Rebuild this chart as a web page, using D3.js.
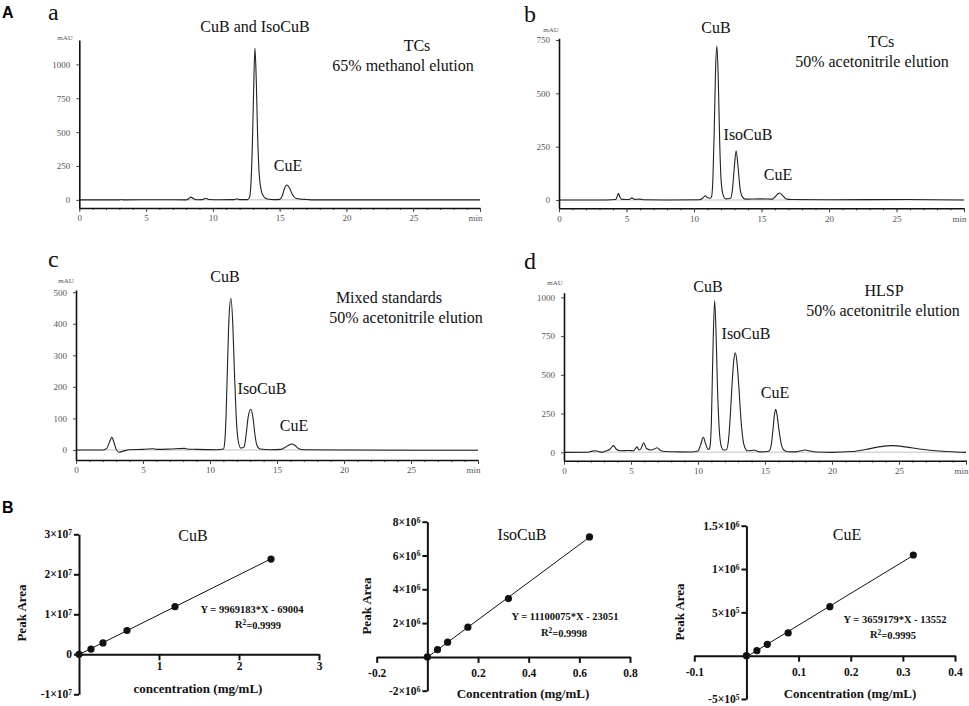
<!DOCTYPE html>
<html>
<head>
<meta charset="utf-8">
<script src="https://cdn.jsdelivr.net/npm/d3@7"></script>
<style>
  body { margin: 0; background: #fff; }
  svg { display: block; }
  svg text { font-family: "Liberation Serif", "Tinos", "Times New Roman", "DejaVu Serif", serif; }
  svg text.sans { font-family: "Liberation Sans", Arial, sans-serif; }
</style>
</head>
<body>
<div id="fig"></div>
<script>
// --- chromatograms: [time (min), signal (mAU)] ---
const traceA = [[0,0],[3,0],[3.15,3],[3.3,0],[6,1],[8.0,0],[8.2,10],[8.35,20],[8.55,10],[8.8,1],[9.2,2],[9.45,12],[9.7,3],[10.5,1],
  [11.6,2],[11.8,8],[12.0,2],[12.6,2],[12.75,20],[12.85,120],[12.95,380],[13.05,800],[13.15,1120],[13.25,880],[13.35,480],
  [13.45,220],[13.6,80],[13.8,25],[14.1,6],[14.6,2],[15.0,4],[15.2,30],[15.35,80],[15.55,110],[15.75,85],[15.95,40],
  [16.2,12],[16.6,5],[17.0,3],[17.5,0],[30,0]];
const traceB = [[0,0],[3.5,0],[4.2,2],[4.3,15],[4.4,31],[4.5,15],[4.65,3],[5.2,2],[5.4,10],[5.6,3],[6.0,4],[6.3,1],[8,0],
  [10.4,1],[10.7,12],[10.85,20],[11.0,10],[11.2,8],[11.3,15],[11.4,100],[11.5,330],[11.6,620],[11.7,722],[11.8,560],
  [11.9,280],[12.0,100],[12.15,25],[12.35,5],[12.7,8],[12.85,50],[12.97,140],[13.12,231],[13.27,150],[13.4,60],[13.55,18],
  [13.8,4],[15,5],[15.8,4],[16.0,14],[16.2,28],[16.35,33],[16.55,22],[16.8,6],[17.2,2],[20,1],[25.8,2],[30,0]];
const traceC = [[0,0],[2.0,0],[2.3,5],[2.5,25],[2.67,40],[2.85,22],[3.0,2],[3.2,-7],[3.5,-4],[4,1],[5,2],[5.8,4],[6,2],[7,3],
  [8.1,5],[8.3,3],[9,2],[10.5,1],[11.0,3],[11.1,25],[11.2,110],[11.3,260],[11.42,420],[11.56,481],[11.7,400],[11.82,250],
  [11.95,110],[12.1,30],[12.3,6],[12.55,10],[12.7,50],[12.85,105],[13.05,129],[13.2,105],[13.35,50],[13.5,15],[13.75,3],
  [14.5,1],[15.3,2],[15.6,8],[15.9,16],[16.1,19],[16.35,14],[16.6,5],[17,1],[20,0],[30,-1]];
const traceD = [[0,0],[1.8,1],[2.1,8],[2.35,10],[2.6,5],[2.85,0],[3.1,8],[3.4,18],[3.7,43],[3.9,20],[4.2,10],[4.8,12],[5.2,10],
  [5.45,35],[5.6,15],[5.75,25],[5.95,62],[6.15,25],[6.5,15],[6.75,22],[6.95,30],[7.2,12],[7.6,5],[8.5,3],[9.5,2],[10.0,8],
  [10.2,50],[10.4,97],[10.55,60],[10.7,25],[10.8,18],[10.9,40],[11.0,200],[11.1,600],[11.24,979],[11.35,760],[11.45,430],
  [11.6,130],[11.75,35],[11.9,15],[12.1,15],[12.25,60],[12.4,220],[12.55,450],[12.68,600],[12.78,643],[12.9,590],[13.05,420],
  [13.2,220],[13.35,85],[13.5,30],[13.7,10],[14.0,12],[14.15,15],[14.35,10],[14.6,3],[15.0,4],[15.3,8],[15.45,40],[15.6,150],
  [15.7,240],[15.8,277],[15.9,240],[16.05,140],[16.2,60],[16.4,15],[16.7,4],[17.3,3],[17.8,12],[18.0,15],[18.3,10],[18.8,2],
  [20,0],[21.5,5],[22.5,18],[23.5,35],[24.5,43],[25.5,35],[26.5,22],[27.5,12],[28.5,5],[29.5,1],[30,0]];

const timeTicks = [0, 5, 10, 15, 20, 25, 30];
const ticksA = [0, 250, 500, 750, 1000];
const ticksB = [0, 250, 500, 750];
const ticksC = [0, 100, 200, 300, 400, 500];
const ticksD = [0, 250, 500, 750, 1000];

// --- calibration curves ---
const cubConc = [0, 0.15, 0.3, 0.6, 1.2, 2.4];
const cubArea = [0, 1.3e6, 2.85e6, 5.95e6, 1.19e7, 2.38e7];
const cubFit = [9969183, -69004];
const isoConc = [0, 0.04, 0.08, 0.16, 0.32, 0.64];
const isoArea = [0, 4.3e5, 8.7e5, 1.76e6, 3.45e6, 7.1e6];
const isoFit = [11100075, -23051];
const cueConc = [0, 0.02, 0.04, 0.08, 0.16, 0.32];
const cueArea = [0, 5.8e4, 1.31e5, 2.62e5, 5.66e5, 1.162e6];
const cueFit = [3659179, -13552];

const cubYTicks = [-1e7, 0, 1e7, 2e7, 3e7];
const cubXTicks = [1, 2, 3];
const isoYTicks = [-2e6, 2e6, 4e6, 6e6, 8e6];
const isoXTicks = [-0.2, 0.2, 0.4, 0.6, 0.8];
const cueYTicks = [-5e5, 5e5, 1e6, 1.5e6];
const cueXTicks = [-0.1, 0.1, 0.2, 0.3, 0.4];

const svg = d3.select("#fig").append("svg")
  .attr("width", 969).attr("height", 706)
  .style("background", "#fff");

// panel letters
svg.append("text").attr("class", "sans").attr("x", 2).attr("y", 18).text("A")
  .attr("font-weight", "bold").attr("font-size", 16);
svg.append("text").attr("class", "sans").attr("x", 2).attr("y", 513).text("B")
  .attr("font-weight", "bold").attr("font-size", 16);

function addText(g, x, y, txt, size, opts) {
  opts = opts || {};
  return g.append("text").attr("x", x).attr("y", y).text(txt)
    .attr("font-size", size)
    .attr("font-weight", opts.bold ? "bold" : null)
    .attr("text-anchor", opts.anchor || "middle")
    .attr("fill", "#111");
}

function drawChrom(o) {
  const x = d3.scaleLinear().domain([0, 30]).range(o.xr);
  const y = d3.scaleLinear().domain(o.yd).range(o.yr);
  const g = svg.append("g");

  // integration baseline
  g.append("line")
    .attr("x1", x(0)).attr("x2", x(30)).attr("y1", y(0)).attr("y2", y(0))
    .attr("stroke", "#d6d6d6").attr("stroke-width", 1.5);

  g.append("path").datum(o.data)
    .attr("fill", "none").attr("stroke", "#222").attr("stroke-width", 1.1)
    .attr("d", d3.line().x(d => x(d[0])).y(d => y(d[1])).curve(d3.curveMonotoneX));

  // minor ticks on time axis
  g.append("g").attr("transform", "translate(0," + o.yr[0] + ")")
    .call(d3.axisBottom(x).tickValues(d3.range(0, 31, 1)).tickSize(2).tickSizeOuter(0).tickFormat(""))
    .call(a => a.select(".domain").remove())
    .selectAll("line").attr("stroke", "#444");

  const xa = g.append("g").attr("transform", "translate(0," + o.yr[0] + ")")
    .call(d3.axisBottom(x).tickValues(timeTicks).tickSize(4).tickSizeOuter(0).tickPadding(3)
      .tickFormat(d => d === 30 ? "min" : String(d)));
  const ya = g.append("g").attr("transform", "translate(" + o.xr[0] + ",0)")
    .call(d3.axisLeft(y).tickValues(o.yt).tickSize(3).tickSizeOuter(0).tickPadding(6)
      .tickFormat(d => String(d)));

  [xa, ya].forEach(a => {
    a.select(".domain").attr("stroke", "#111").attr("stroke-width", 1.6);
    a.selectAll(".tick line").attr("stroke", "#444");
    a.selectAll("text").attr("font-size", 9).attr("fill", "#555");
  });
  xa.selectAll(".tick").filter(d => d === 30).select("text").attr("text-anchor", "end").attr("dx", "2");

  addText(g, o.mau[0], o.mau[1], "mAU", 7).attr("fill", "#555");
  addText(g, o.letter[1], o.letter[2], o.letter[0], 24, { anchor: "start" });
  o.labels.forEach(l => addText(g, l[1], l[2], l[0], 16));
}

drawChrom({ data: traceA, xr: [79.3, 480], yd: [-60, 1180], yr: [208, 40], yt: ticksA,
  letter: ["a", 48, 20], mau: [65, 40],
  labels: [["CuB and IsoCuB", 255, 32], ["TCs", 417, 51], ["65% methanol elution", 403, 71], ["CuE", 288, 171]] });
drawChrom({ data: traceB, xr: [559, 964], yd: [-39, 758], yr: [208.3, 38.3], yt: ticksB,
  letter: ["b", 524, 22], mau: [551, 31.5],
  labels: [["CuB", 716, 33], ["TCs", 881, 47], ["50% acetonitrile elution", 872, 67], ["IsoCuB", 748, 140], ["CuE", 778, 180]] });
drawChrom({ data: traceC, xr: [76, 478], yd: [-31.7, 507], yr: [460, 290], yt: ticksC,
  letter: ["c", 48, 267], mau: [66, 283],
  labels: [["CuB", 225, 282], ["Mixed standards", 389, 303], ["50% acetonitrile elution", 406, 323], ["IsoCuB", 262, 394], ["CuE", 294, 431]] });
drawChrom({ data: traceD, xr: [564, 966], yd: [-54, 1030], yr: [460.7, 292.7], yt: ticksD,
  letter: ["d", 524, 269], mau: [555, 285],
  labels: [["CuB", 708, 292], ["HLSP", 884, 296], ["50% acetonitrile elution", 883, 316], ["IsoCuB", 746, 339], ["CuE", 775, 398]] });

// --- calibration panels ---
function sciLabel(sel) {
  sel.each(function(d) {
    const t = d3.select(this).text(null);
    if (d === 0) { t.text("0"); return; }
    const e = Math.floor(Math.log10(Math.abs(d)));
    const m = +(d / Math.pow(10, e)).toFixed(1);
    t.append("tspan").text(m + "\u00d710");
    t.append("tspan").text(e).attr("dy", "-0.45em").attr("font-size", "0.65em");
  });
}

function drawCalib(o) {
  const x = d3.scaleLinear().domain(o.xd).range(o.xr);
  const y = d3.scaleLinear().domain(o.yd).range(o.yr);
  const g = svg.append("g");

  const xa = g.append("g").attr("transform", "translate(0," + y(0) + ")")
    .call(d3.axisBottom(x).tickValues(o.xt).tickSize(6).tickSizeOuter(0).tickPadding(o.xpad)
      .tickFormat(d => String(d)));
  const ya = g.append("g").attr("transform", "translate(" + x(0) + ",0)")
    .call(d3.axisLeft(y).tickValues(o.yt).tickSize(5).tickSizeOuter(0).tickPadding(2));
  [xa, ya].forEach(a => {
    a.select(".domain").attr("stroke", "#111").attr("stroke-width", 2);
    a.selectAll(".tick line").attr("stroke", "#111").attr("stroke-width", 2);
    a.selectAll("text").attr("font-weight", "bold").attr("font-size", 11.5).attr("fill", "#111");
  });
  ya.selectAll(".tick text").call(sciLabel);

  // fitted line from the regression shown on the chart
  const c0 = o.conc[0], c1 = o.conc[o.conc.length - 1];
  g.append("line")
    .attr("x1", x(c0)).attr("y1", y(o.fit[0] * c0 + o.fit[1]))
    .attr("x2", x(c1)).attr("y2", y(o.fit[0] * c1 + o.fit[1]))
    .attr("stroke", "#111").attr("stroke-width", 1);

  g.selectAll("circle").data(o.conc).join("circle")
    .attr("cx", d => x(d)).attr("cy", (d, i) => y(o.area[i]))
    .attr("r", 3.6).attr("fill", "#111");

  addText(g, o.title[1], o.title[2], o.title[0], 16);
  addText(g, o.xlab[1], o.xlab[2], o.xlab[0], 13, { bold: true });
  addText(g, 0, 0, "Peak Area", 13, { bold: true })
    .attr("transform", "translate(" + o.ylab[0] + "," + o.ylab[1] + ") rotate(-90)");
  const sign = o.fit[1] < 0 ? " - " : " + ";
  addText(g, o.eq[0], o.eq[1], "Y = " + o.fit[0] + "*X" + sign + Math.abs(o.fit[1]), 10.5, { bold: true });
  const r = addText(g, o.r2[0], o.r2[1], "R", 10.5, { bold: true });
  r.append("tspan").text("2").attr("dy", "-0.45em").attr("font-size", "0.7em");
  r.append("tspan").text("=" + o.r2[2]).attr("dy", "0.45em");
}

drawCalib({ conc: cubConc, area: cubArea, fit: cubFit, xd: [0, 3], xr: [79, 319],
  yd: [-1e7, 3e7], yr: [694.3, 534.3], xt: cubXTicks, yt: cubYTicks, xpad: 2,
  title: ["CuB", 193, 541], xlab: ["concentration (mg/mL)", 198, 693], ylab: [26, 613],
  eq: [252, 613], r2: [258, 628, "0.9999"] });
drawCalib({ conc: isoConc, area: isoArea, fit: isoFit, xd: [-0.2, 0.8], xr: [376.7, 630],
  yd: [-2e6, 8e6], yr: [690.7, 521.7], xt: isoXTicks, yt: isoYTicks, xpad: 6,
  title: ["IsoCuB", 522, 540], xlab: ["Concentration (mg/mL)", 523, 698], ylab: [371, 606],
  eq: [565, 620], r2: [564, 636, "0.9998"] });
drawCalib({ conc: cueConc, area: cueArea, fit: cueFit, xd: [-0.1, 0.4], xr: [694.3, 955],
  yd: [-5e5, 1.5e6], yr: [699, 525.7], xt: cueXTicks, yt: cueYTicks, xpad: 6,
  title: ["CuE", 847, 540], xlab: ["Concentration (mg/mL)", 850, 698], ylab: [684, 612],
  eq: [895, 623], r2: [893, 638, "0.9995"] });
</script>
</body>
</html>
